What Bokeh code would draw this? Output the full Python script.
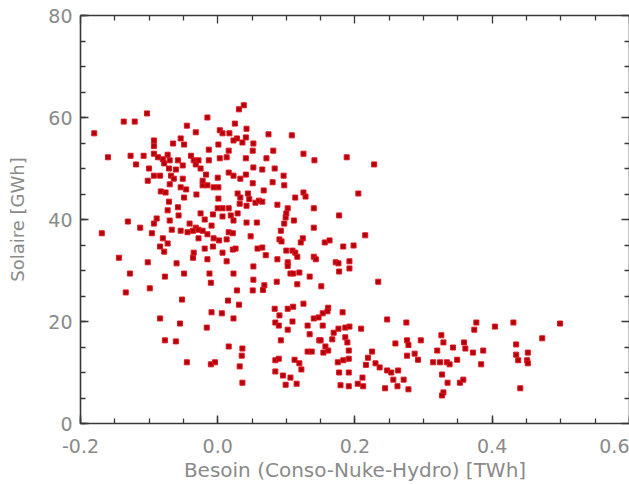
from bokeh.plotting import figure
from bokeh.models import LinearAxis, Range1d, SingleIntervalTicker, FixedTicker, PrintfTickFormatter, ColumnDataSource
from bokeh.embed import file_html
from bokeh.resources import INLINE

# (Besoin [TWh], Solaire [GWh]) pairs, grouped by region
haut_gauche = [
    (-0.180, 56.9), (-0.160, 52.2), (-0.137, 59.2), (-0.121, 59.2), (-0.103, 60.8),
    (-0.127, 52.5), (-0.119, 50.8), (-0.108, 52.5), (-0.093, 55.5), (-0.093, 54.4),
    (-0.093, 52.9), (-0.087, 52.2), (-0.080, 51.8), (-0.073, 52.7), (-0.070, 51.6),
    (-0.065, 54.9), (-0.054, 55.9), (-0.049, 54.7), (-0.045, 58.4), (-0.032, 57.1),
    (-0.015, 60.0), (-0.013, 53.7), (0.003, 57.5), (0.007, 56.9), (0.017, 56.9),
    (0.025, 58.8), (0.031, 61.6), (0.038, 62.4), (0.042, 57.8), (0.001, 54.7),
    (0.016, 53.5), (0.028, 55.9), (0.036, 55.1), (0.052, 54.9), (0.051, 53.5),
    (0.023, 55.5), (0.041, 56.1),
]
milieu_haut_gauche = [
    (-0.100, 50.0), (-0.102, 47.6), (-0.093, 48.6), (-0.084, 48.6), (-0.078, 51.0),
    (-0.058, 51.6), (-0.051, 50.6), (-0.039, 52.5), (-0.035, 51.6), (-0.032, 50.8),
    (-0.028, 51.6), (-0.025, 50.0), (-0.013, 51.6), (0.003, 52.0), (0.013, 52.2),
    (0.041, 52.0), (0.052, 50.2), (-0.071, 50.0), (-0.061, 49.8), (-0.068, 48.6),
    (-0.083, 45.5), (-0.070, 46.9), (-0.064, 48.0), (-0.051, 48.0), (-0.054, 46.3),
    (-0.046, 45.9), (-0.071, 43.5), (-0.049, 44.3), (-0.031, 44.9), (-0.022, 46.7),
    (-0.015, 46.7), (-0.017, 48.8), (0.000, 48.2), (0.001, 46.3), (0.001, 44.1),
    (0.023, 48.6), (0.033, 48.0), (0.029, 45.1), (0.033, 44.3), (0.032, 43.1),
    (0.041, 48.8), (0.051, 47.1), (0.042, 42.7), (0.055, 43.3), (0.000, 42.2),
    (0.007, 42.2), (-0.076, 45.3), (0.060, 43.7), (0.044, 45.1), (0.046, 44.0),
    (-0.006, 46.3), (-0.022, 47.6), (0.016, 49.2),
]
haut_droite = [
    (0.074, 56.7), (0.108, 56.5), (0.081, 53.5), (0.071, 52.0), (0.125, 52.9),
    (0.141, 51.6), (0.188, 52.2), (0.228, 50.8), (0.065, 49.8), (0.083, 50.0),
    (0.096, 48.6), (0.080, 47.3), (0.097, 46.7), (0.125, 45.3), (0.128, 44.5),
    (0.113, 44.3), (0.205, 45.1), (0.065, 43.5), (0.087, 42.9), (0.102, 42.2),
    (0.140, 42.2), (0.067, 45.7),
]
milieu_gauche = [
    (-0.169, 37.3), (-0.131, 39.6), (-0.113, 38.4), (-0.144, 32.5), (-0.128, 29.4),
    (-0.134, 25.7), (-0.099, 26.5), (-0.102, 31.6), (-0.093, 39.2), (-0.089, 40.2),
    (-0.096, 37.3), (-0.070, 39.8), (-0.057, 40.8), (-0.067, 38.0), (-0.080, 36.3),
    (-0.073, 35.3), (-0.084, 34.7), (-0.078, 33.7), (-0.077, 28.8), (-0.060, 31.4),
    (-0.049, 29.4), (-0.041, 39.2), (-0.044, 37.5), (-0.032, 38.4), (-0.028, 38.0),
    (-0.022, 37.8), (-0.028, 36.3), (-0.019, 40.0), (-0.009, 38.8), (-0.015, 37.1),
    (-0.007, 41.0), (0.007, 40.6), (0.016, 42.2), (0.042, 39.4), (0.057, 39.4),
    (-0.006, 36.3), (0.002, 35.9), (0.013, 36.1), (0.016, 37.5), (0.022, 37.3),
    (0.048, 36.7), (-0.035, 33.5), (-0.036, 32.5), (-0.019, 34.3), (-0.015, 32.2),
    (-0.007, 34.7), (0.007, 33.5), (0.013, 31.8), (0.022, 34.1), (0.026, 34.3),
    (0.058, 34.3), (0.052, 30.8), (0.052, 28.2), (0.051, 26.1), (0.023, 29.4),
    (0.028, 26.1), (0.015, 24.1), (0.031, 23.3), (-0.012, 29.4), (-0.010, 27.6),
    (-0.052, 24.3), (-0.084, 20.6), (-0.009, 21.8), (0.006, 21.6), (0.023, 20.6),
    (-0.073, 41.8), (-0.058, 42.4), (0.019, 40.8), (0.029, 41.2), (0.023, 39.8),
    (-0.025, 41.2), (-0.054, 37.8), (-0.036, 37.8),
]
milieu_droite = [
    (0.099, 40.4), (0.097, 39.2), (0.177, 40.8), (0.140, 38.4), (0.215, 36.9),
    (0.090, 36.1), (0.093, 35.7), (0.124, 36.3), (0.121, 35.5), (0.156, 35.5),
    (0.163, 35.9), (0.183, 34.7), (0.198, 34.9), (0.065, 34.5), (0.070, 33.0),
    (0.087, 32.2), (0.100, 33.9), (0.109, 33.9), (0.113, 33.5), (0.116, 32.7),
    (0.102, 31.6), (0.102, 30.9), (0.140, 32.7), (0.143, 32.2), (0.172, 31.6),
    (0.176, 31.4), (0.192, 31.8), (0.192, 30.4), (0.177, 29.8), (0.106, 29.4),
    (0.110, 29.4), (0.119, 29.6), (0.134, 28.8), (0.086, 27.8), (0.116, 27.3),
    (0.151, 26.9), (0.234, 27.8), (0.068, 27.1), (0.066, 26.2), (0.083, 22.5),
    (0.090, 21.2), (0.102, 22.5), (0.110, 22.9), (0.125, 23.5), (0.161, 22.7),
    (0.153, 21.6), (0.160, 22.0), (0.182, 21.8), (0.140, 20.6), (0.147, 20.8),
    (0.111, 39.8), (0.092, 37.8), (0.100, 41.2),
]
bas_gauche = [
    (-0.055, 19.6), (-0.016, 18.8), (-0.077, 16.3), (-0.061, 16.1), (0.016, 15.1),
    (0.036, 14.7), (0.035, 13.3), (0.032, 11.2), (-0.045, 12.0), (-0.010, 11.6),
    (-0.004, 12.0), (0.036, 8.0),
]
bas_milieu = [
    (0.084, 19.8), (0.089, 19.2), (0.109, 20.0), (0.102, 18.4), (0.092, 16.3),
    (0.131, 19.2), (0.153, 19.2), (0.148, 16.3), (0.134, 17.5), (0.131, 14.1),
    (0.137, 14.1), (0.157, 15.1), (0.161, 14.3), (0.167, 16.5), (0.169, 17.8),
    (0.176, 18.6), (0.186, 18.8), (0.192, 19.0), (0.209, 18.6), (0.186, 16.9),
    (0.189, 15.9), (0.191, 14.3), (0.191, 12.7), (0.183, 12.4), (0.175, 12.0),
    (0.084, 12.4), (0.089, 12.7), (0.112, 12.5), (0.119, 11.8), (0.122, 10.6),
    (0.084, 10.2), (0.095, 9.4), (0.106, 9.0), (0.099, 7.6), (0.115, 7.8),
    (0.177, 10.0), (0.191, 10.0), (0.179, 7.5), (0.191, 7.3), (0.204, 7.8),
    (0.211, 9.0), (0.212, 7.3), (0.225, 14.1), (0.219, 12.9), (0.216, 11.5),
    (0.230, 11.8), (0.236, 11.0), (0.247, 10.4), (0.253, 10.0), (0.263, 10.4),
    (0.256, 8.6), (0.271, 8.6), (0.262, 7.3), (0.244, 6.9), (0.278, 6.7),
    (0.259, 15.7), (0.276, 16.3), (0.278, 15.4), (0.296, 16.3), (0.276, 13.3),
    (0.287, 13.7), (0.292, 12.5), (0.247, 20.4), (0.275, 19.8), (0.150, 16.3),
    (0.154, 13.9),
]
bas_droite = [
    (0.377, 19.8), (0.374, 18.4), (0.404, 19.0), (0.431, 19.8), (0.499, 19.6),
    (0.473, 16.7), (0.326, 17.3), (0.329, 15.9), (0.320, 14.3), (0.343, 14.9),
    (0.359, 15.9), (0.361, 14.7), (0.372, 13.9), (0.387, 14.3), (0.314, 12.0),
    (0.324, 12.0), (0.334, 12.0), (0.338, 11.6), (0.349, 12.5), (0.384, 11.6),
    (0.435, 15.5), (0.435, 13.5), (0.452, 13.9), (0.438, 12.4), (0.451, 12.4),
    (0.452, 11.8), (0.327, 9.6), (0.335, 8.0), (0.353, 8.0), (0.358, 8.6),
    (0.329, 6.1), (0.327, 5.5), (0.441, 6.9),
]

x_label = "Besoin (Conso-Nuke-Hydro) [TWh]"
y_label = "Solaire [GWh]"
x_major = [-0.2, 0.0, 0.2, 0.4, 0.6]
x_minor = [-0.15, -0.1, -0.05, 0.05, 0.1, 0.15, 0.25, 0.3, 0.35, 0.45, 0.5, 0.55]
y_major = [0, 20, 40, 60, 80]
y_minor = [5, 10, 15, 25, 30, 35, 45, 50, 55, 65, 70, 75]

groups = [haut_gauche, milieu_haut_gauche, haut_droite, milieu_gauche,
          milieu_droite, bas_gauche, bas_milieu, bas_droite]
besoin = [pt[0] for g in groups for pt in g]
solaire = [pt[1] for g in groups for pt in g]
src = ColumnDataSource(dict(x=besoin, y=solaire))

p = figure(width=629, height=484, output_backend="svg", toolbar_location=None,
           x_range=Range1d(-0.2, 0.6002), y_range=Range1d(0, 80.001),
           min_border_left=80, min_border_right=0, min_border_top=15,
           min_border_bottom=61)
p.grid.visible = False
p.outline_line_color = None
p.background_fill_color = "white"
p.border_fill_color = "white"

AX = "#383838"
LBL = "#8a8a8a"
FONT = "DejaVu Sans"

def style_lines(ax):
    ax.axis_line_color = AX
    ax.axis_line_width = 1.6
    ax.major_tick_line_color = AX
    ax.major_tick_line_width = 1.5
    ax.minor_tick_line_color = AX
    ax.minor_tick_line_width = 1.3
    ax.major_tick_in = 8
    ax.major_tick_out = 0
    ax.minor_tick_in = 5
    ax.minor_tick_out = 0

def style_main(ax, interval):
    style_lines(ax)
    ax.ticker = SingleIntervalTicker(interval=interval, num_minor_ticks=4)
    ax.major_label_text_font = FONT
    ax.major_label_text_color = LBL
    ax.major_label_text_font_size = "19px"
    ax.axis_label_text_font = FONT
    ax.axis_label_text_color = LBL
    ax.axis_label_text_font_style = "normal"
    ax.axis_label_text_font_size = "18px"

def bare_axis(ticks, tick_len, draw_line):
    # axis with only (unlabelled) minor ticks, used for the top and right frame edges
    ax = LinearAxis(ticker=FixedTicker(ticks=[], minor_ticks=ticks))
    style_lines(ax)
    ax.minor_tick_in = tick_len
    ax.major_label_standoff = 0
    ax.axis_label_standoff = 0
    if not draw_line:
        ax.axis_line_color = None
    return ax

for ax in p.xaxis:
    style_main(ax, 0.2)
    ax.formatter = PrintfTickFormatter(format="%.1f")
    ax.axis_label = x_label
    ax.axis_label_text_font_size = "20px"
    ax.major_label_standoff = 15
    ax.axis_label_standoff = 2
for ax in p.yaxis:
    style_main(ax, 20)
    ax.formatter = PrintfTickFormatter(format="%d")
    ax.axis_label = y_label
    ax.major_label_standoff = 8
    ax.axis_label_standoff = 17

p.add_layout(bare_axis(x_minor, 5, True), "above")
p.add_layout(bare_axis(x_major, 8, False), "above")
p.add_layout(bare_axis(y_minor, 5, True), "right")
p.add_layout(bare_axis(y_major, 8, False), "right")

p.scatter("x", "y", source=src, marker="square", size=5,
          fill_color="#b0000c", line_color="#e2161e", line_width=1)

open("out.html", "w").write(file_html(p, INLINE))
